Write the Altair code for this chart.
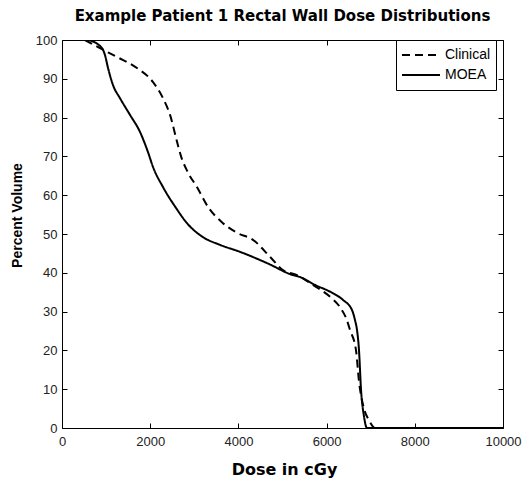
import altair as alt
import pandas as pd

clinical_dose = [520, 860, 1250, 1700, 2060, 2290, 2450, 2610, 2700, 2850, 3060, 3310, 3650,
                 3970, 4330, 4720, 5010, 5330, 5700, 6080, 6300, 6460, 6530, 6667, 6735, 6848,
                 6961, 7100, 10000]
clinical_vol = [100, 97.9, 95.6, 92.8, 89.2, 85, 80.7, 73.7, 70, 66, 62.1, 57, 52.8,
                50.3, 48.5, 44.1, 40.7, 39.4, 36.8, 33.8, 31.2, 27.8, 25.3, 20, 12, 5,
                2, 0, 0]

moea_dose = [600, 907, 975, 1043, 1156, 1315, 1542, 1769, 1950, 2063, 2290, 2580, 2834,
             3197, 3583, 4036, 4649, 5238, 5400, 5750, 6100, 6372, 6576, 6644, 6689, 6735,
             6780, 6848, 6916, 10000]
moea_vol = [100, 97.9, 96.1, 92.8, 88.4, 85, 80.7, 76.3, 71.1, 67.3, 62.1, 56.8, 52.8,
            49.2, 47.2, 45.4, 42.5, 39.4, 38.9, 36.8, 35, 33, 30.4, 27.8, 25.3, 20,
            10, 3, 0, 0]

series_names = ["Clinical", "MOEA"]
x_ticks = [0, 2000, 4000, 6000, 8000, 10000]
y_ticks = [0, 10, 20, 30, 40, 50, 60, 70, 80, 90, 100]

df = pd.concat([
    pd.DataFrame({"dose": clinical_dose, "vol": clinical_vol, "series": "Clinical"}),
    pd.DataFrame({"dose": moea_dose, "vol": moea_vol, "series": "MOEA"}),
], ignore_index=True)

xs = alt.Scale(domain=[0, 10000], nice=False, zero=False)
ys = alt.Scale(domain=[0, 100], nice=False)

LBL = dict(labelFont="Liberation Sans", labelFontSize=13, labelColor="#222222",
           labelFlush=False)
INWARD = dict(ticks=True, tickSize=alt.ExprRef("-5"), tickColor="black", tickWidth=1)

base = alt.Chart(df)

lines = base.mark_line(strokeWidth=2, color="black", clip=True,
                       interpolate="monotone").encode(
    x=alt.X("dose:Q", scale=xs, axis=alt.Axis(
        orient="bottom", values=x_ticks, domain=False, grid=False,
        labelPadding=12, format="d", title="Dose in cGy",
        titleFont="DejaVu Sans", titleFontSize=16, titleFontWeight="bold",
        titleColor="black", titleX=222, titleY=46, titleBaseline="alphabetic",
        titleAlign="center", **INWARD, **LBL)),
    y=alt.Y("vol:Q", scale=ys, axis=alt.Axis(
        orient="left", values=y_ticks, domain=False, grid=False,
        labelPadding=10, title="Percent Volume",
        titleFont="Liberation Sans", titleFontSize=14, titleFontWeight="bold",
        titleColor="black", titleX=-45, titleY=175, titleBaseline="middle",
        titleAlign="center", titleAngle=270, **INWARD, **LBL)),
    strokeDash=alt.StrokeDash("series:N", scale=alt.Scale(
        domain=series_names, range=[[8, 5], [1, 0]]),
        legend=alt.Legend(
            title=None, orient="none", legendX=334, legendY=0,
            symbolType="stroke", symbolSize=1444, symbolStrokeWidth=2,
            symbolStrokeColor="black", clipHeight=20, rowPadding=0,
            padding=5, labelOffset=4, labelFont="Liberation Sans",
            labelFontSize=14, labelColor="black", strokeColor="black",
            fillColor="white")),
)

ticks_tr = base.mark_line(opacity=0).encode(
    x=alt.X("dose:Q", scale=xs, axis=alt.Axis(
        orient="top", values=x_ticks, labels=False, domain=False, grid=False,
        title=None, **INWARD)),
    y=alt.Y("vol:Q", scale=ys, axis=alt.Axis(
        orient="right", values=y_ticks, labels=False, domain=False, grid=False,
        title=None, **INWARD)),
)

chart = alt.layer(lines, ticks_tr).resolve_axis(
    x="independent", y="independent"
).properties(
    width=441, height=388,
    autosize=alt.AutoSizeParams(type="none"),
    padding={"left": 62, "top": 40, "right": 23, "bottom": 52},
    background="white",
    title=alt.TitleParams(
        "Example Patient 1 Rectal Wall Dose Distributions",
        font="DejaVu Sans", fontSize=15, fontWeight="bold", color="black",
        anchor="middle", offset=10),
).configure_view(stroke="black", strokeWidth=1)

chart.save("out.html", embed_options={"renderer": "svg", "actions": False})
